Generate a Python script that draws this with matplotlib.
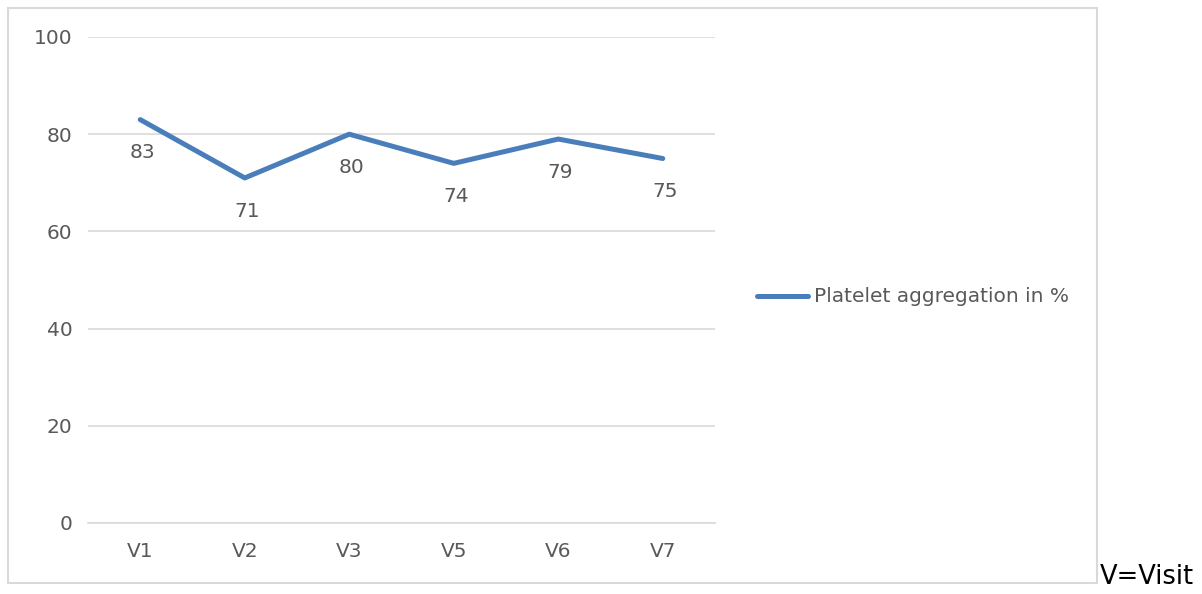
import matplotlib.pyplot as plt
from matplotlib.patches import Rectangle

visits = ["V1", "V2", "V3", "V5", "V6", "V7"]
aggregation = [83, 71, 80, 74, 79, 75]
series_name = "Platelet aggregation in %"
yticks = [0, 20, 40, 60, 80, 100]

W, H = 1202, 594
fig = plt.figure(figsize=(W / 100, H / 100), dpi=100)
plt.rcParams['font.family'] = ['DejaVu Sans']
grey = '#595959'
blue = '#4A7EBB'
fs = 14.5

# outer chart frame
fig.patches.append(Rectangle((8 / W, 1 - 583 / H), (1097 - 8) / W, (583 - 8) / H,
                             transform=fig.transFigure, fill=False,
                             edgecolor='#D9D9D9', linewidth=1.5))

ax = fig.add_axes([88 / W, 1 - 523 / H, (715 - 88) / W, (523 - 37) / H])
x = range(len(visits))
ax.plot(x, aggregation, color=blue, linewidth=3.6, solid_capstyle='round')
for i, v in enumerate(aggregation):
    ax.annotate(str(v), (i, v), xytext=(1.5, -24), textcoords='offset points',
                ha='center', va='center', fontsize=fs, color=grey)

ax.set_xlim(-0.5, len(visits) - 0.5)
ax.set_ylim(0, 100)
ax.set_yticks(yticks)
ax.set_xticks(list(x))
ax.set_xticklabels(visits)
ax.grid(axis='y', color='#D9D9D9', linewidth=1.2)
ax.set_axisbelow(True)
for s in ax.spines.values():
    s.set_visible(False)
ax.spines['bottom'].set_visible(True)
ax.spines['bottom'].set_color('#D9D9D9')
ax.spines['bottom'].set_linewidth(1.2)
ax.tick_params(length=0, labelsize=fs, labelcolor=grey)
ax.tick_params(axis='x', pad=14)
ax.tick_params(axis='y', pad=11)

# legend, clipped by the chart frame
lax = fig.add_axes([8 / W, 1 - 583 / H, (1097 - 8) / W, (583 - 8) / H])
lax.set_xlim(8, 1097)
lax.set_ylim(583, 8)
lax.axis('off')
lax.plot([757, 808], [296, 296], color=blue, linewidth=3.6, solid_capstyle='round')
lax.text(814, 296, series_name, ha='left', va='center', fontsize=fs,
         color=grey, clip_on=True)

fig.text(1100 / W, 1 - 577 / H, "V=Visit", ha='left', va='center',
         fontsize=18.5, color='black')

fig.savefig("out.png", dpi=100)
